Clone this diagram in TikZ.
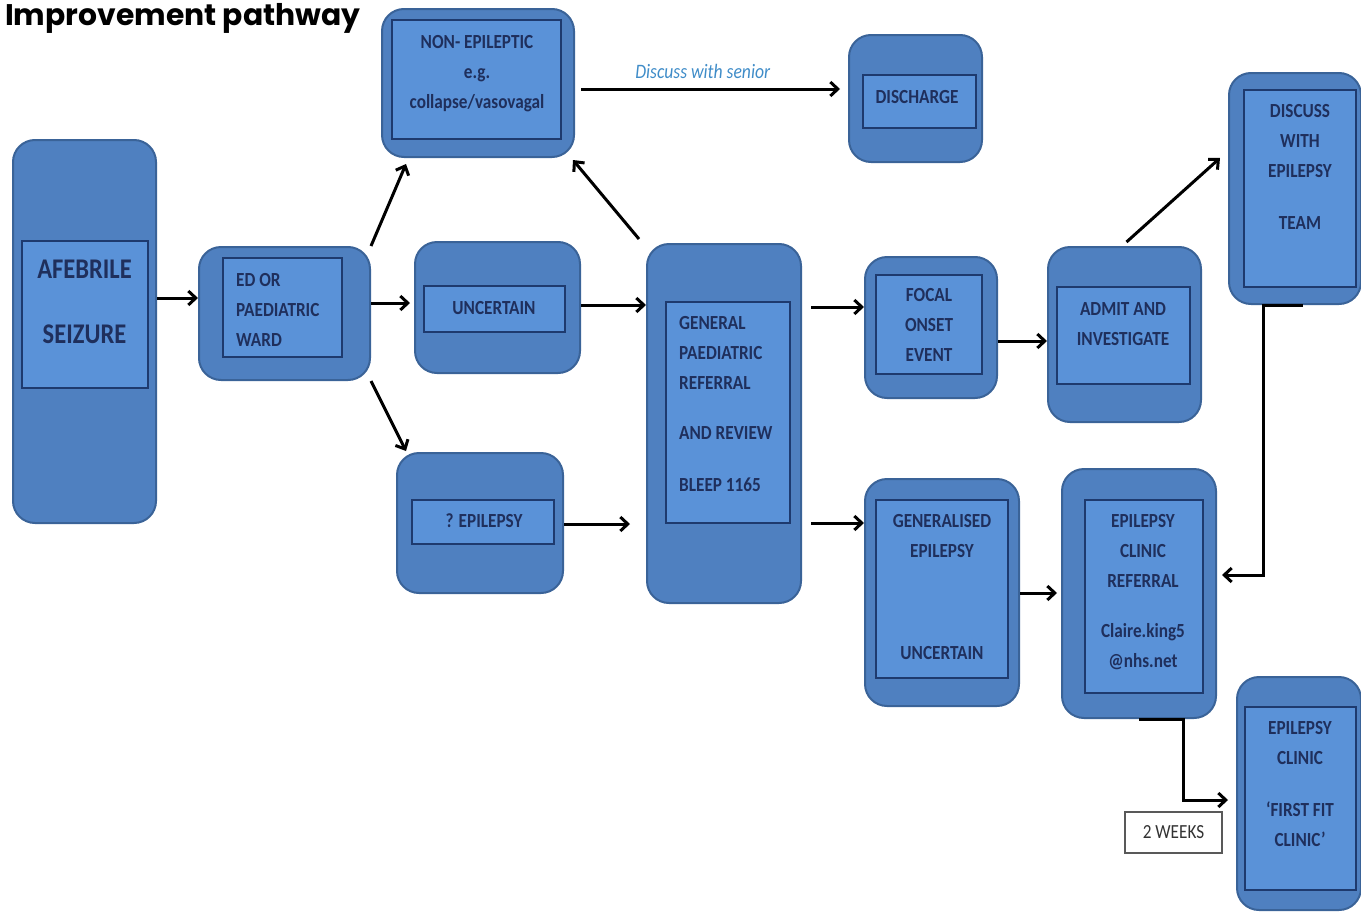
\documentclass[tikz,border=0pt]{standalone}
\usepackage{fontspec}
\setmainfont{Carlito}
\newfontfamily\cf[FakeStretch=0.86]{Carlito}
\newfontfamily\pop{Poppins}
\usetikzlibrary{arrows.meta,fit,calc}
\definecolor{outerfill}{HTML}{4F80C0}
\definecolor{outerline}{HTML}{3A6398}
\definecolor{innerfill}{HTML}{5A92D8}
\definecolor{innerline}{HTML}{1E3A6E}
\definecolor{textcol}{HTML}{1F2F5C}
\definecolor{lblblue}{HTML}{3F8CC8}
\newcommand\R{\rule{0pt}{15pt}}
\newcommand\flowbox[9]{%
  \node[outerbox, fit={(#2,#3)(#4,#5)}] (#1) {};
  \node[innerbox, fit={(#6,#7)(#8,#9)}] (#1-in) {};}
\begin{document}
\begin{tikzpicture}[x=1pt,y=-1pt,
  outerbox/.style={draw=outerline, fill=outerfill, line width=2pt, rounded corners=22pt, inner sep=0pt},
  innerbox/.style={draw=innerline, fill=innerfill, line width=2.2pt, inner sep=0pt},
  txt/.style={anchor=north, align=center, inner sep=0pt, text=textcol, font=\cf\bfseries\fontsize{20}{30}\selectfont},
  arr/.style={-{Straight Barb[length=7.5pt,width=14pt]}, line width=3pt, black},
  lbl/.style={pos=0.47, above=9pt, inner sep=0pt, text=lblblue, font=\cf\itshape\fontsize{20.5}{22}\selectfont}]
\useasboundingbox (0,0) rectangle (1361,913);
\node[anchor=base west, inner sep=0pt, font=\pop\bfseries\fontsize{29.8}{32}\selectfont] (title) at (5,25) {Improvement pathway};

\flowbox{afe}{13}{140}{156}{523}{22}{241}{148}{388}
\flowbox{ed}{199}{247}{370}{380}{223}{258}{342}{357}
\flowbox{non}{382}{9}{574}{157}{392}{20}{561}{139}
\flowbox{unc}{415}{242}{580}{373}{424}{286}{565}{332}
\flowbox{qep}{397}{453}{563}{593}{412}{500}{554}{544}
\flowbox{gen}{647}{244}{801}{603}{666}{302}{790}{523}
\flowbox{dis}{849}{35}{982}{162}{863}{75}{976}{128}
\flowbox{foc}{865}{257}{997}{398}{876}{275}{982}{374}
\flowbox{adm}{1048}{247}{1201}{422}{1057}{287}{1190}{384}
\flowbox{dsc}{1229}{73}{1361}{304}{1244}{90}{1356}{287}
\flowbox{gnz}{865}{479}{1019}{706}{876}{500}{1008}{678}
\flowbox{ref}{1062}{469}{1216}{718}{1085}{500}{1203}{693}
\flowbox{ffc}{1237}{677}{1361}{910}{1245}{707}{1356}{890}

\node[txt, font=\cf\bfseries\fontsize{28.5}{65}\selectfont] (afe-t) at (84.5,256) {\rule{0pt}{22pt}AFEBRILE\\SEIZURE};
\node[txt, anchor=north west, align=left] (ed-t) at (236,271.5) {\R ED OR\\PAEDIATRIC\\WARD};
\node[txt] (non-t) at (477,33.5) {\R NON- EPILEPTIC\\e.g.\\collapse/vasovagal};
\node[txt] (unc-t) at (494,299.5) {\R UNCERTAIN};
\node[txt] (qep-t) at (484,512.5) {\R ? EPILEPSY};
\node[txt, anchor=north west, align=left] (gen-t) at (679,314.5) {\R GENERAL\\PAEDIATRIC\\REFERRAL\\[20pt]AND REVIEW\\[22pt]BLEEP 1165};
\node[txt] (dis-t) at (917,88.5) {\R DISCHARGE};
\node[txt] (foc-t) at (929,286.5) {\R FOCAL\\ONSET\\EVENT};
\node[txt] (adm-t) at (1123,300.5) {\R ADMIT AND\\INVESTIGATE};
\node[txt] (dsc-t) at (1300,102.5) {\R DISCUSS\\WITH\\EPILEPSY\\[22pt]TEAM};
\node[txt] (gnz-t) at (942,512.5) {\R GENERALISED\\EPILEPSY\\[72pt]UNCERTAIN};
\node[txt] (ref-t) at (1143,512.5) {\R EPILEPSY\\CLINIC\\REFERRAL\\[20pt]Claire.king5\\@nhs.net};
\node[txt] (ffc-t) at (1300,719.5) {\R EPILEPSY\\CLINIC\\[22pt]‘FIRST FIT\\CLINIC’};

\node[draw=black!65, fill=white, line width=1.2pt, minimum width=97pt, minimum height=41pt, inner sep=0pt,
  font=\cf\fontsize{20}{24}\selectfont, text=black!80] (wk) at (1173.5,832.5) {2 WEEKS};

\draw[arr] (afe.east |- 0,298) -- (ed.west |- 0,298);
\draw[arr] (ed.north east) -- ($(non.south west)+(25,6)$);
\draw[arr] (ed.east |- 0,303) -- ([xshift=-4pt]unc.west |- 0,303);
\draw[arr] (ed.south east) -- ($(qep.north west)+(10,-1)$);
\draw[arr] (unc.east |- 0,305) -- (gen.west |- 0,305);
\draw[arr] (qep.east |- 0,524) -- ([xshift=-16pt]gen.west |- 0,524);
\draw[arr] ($(gen.north west)+(-7,-4)$) -- ($(non.south east)+(-2,2)$);
\draw[arr] ([xshift=6pt]non.east |- 0,89) -- node[lbl] {Discuss with senior} ([xshift=-8pt]dis.west |- 0,89);
\draw[arr] ([xshift=9pt]gen.east |- 0,307) -- (foc.west |- 0,307);
\draw[arr] ([xshift=9pt]gen.east |- 0,523) -- (gnz.west |- 0,523);
\draw[arr] (foc.east |- 0,341) -- (adm.west |- 0,341);
\draw[arr] ($(adm.north)+(2,-4)$) -- ([xshift=-8pt]dsc.west |- 0,158);
\draw[arr] (gnz.east |- 0,593) -- ([xshift=-4pt]ref.west |- 0,593);
\draw[arr] ($(dsc.south)+(8,0)$) -- (dsc.south -| 1263,0) |- ([xshift=5pt]ref.east |- 0,575);
\draw[arr] (ref.south) -- (ref.south -| 1183,0) |- ([xshift=-8pt]ffc.west |- 0,800);
\end{tikzpicture}
\end{document}
